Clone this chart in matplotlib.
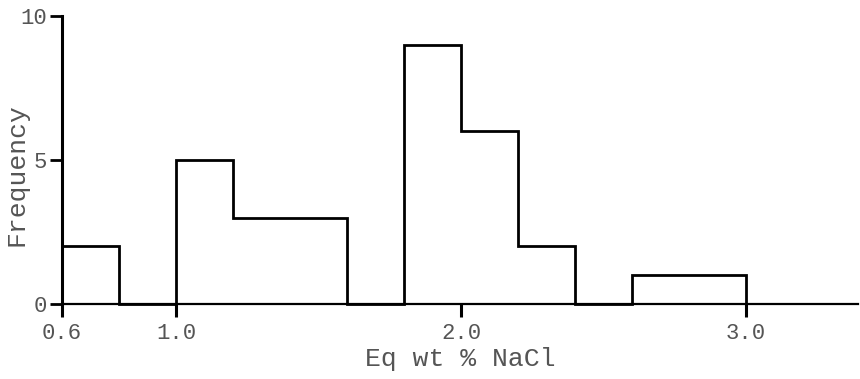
import matplotlib
matplotlib.use("Agg")
import matplotlib.pyplot as plt

# Histogram bin edges (width 0.2) and frequencies
bin_edges = [0.6, 0.8, 1.0, 1.2, 1.4, 1.6, 1.8, 2.0, 2.2, 2.4, 2.6, 2.8, 3.0]
freq = [2, 0, 5, 3, 3, 0, 9, 6, 2, 0, 1, 1]
xticks = [0.6, 1.0, 2.0, 3.0]
xticklabels = ["0.6", "1.0", "2.0", "3.0"]
yticks = [0, 5, 10]
yticklabels = ["0", "5", "10"]

txt_color = "#555555"
font = "Liberation Mono"

fig = plt.figure(figsize=(8.6, 3.79), dpi=100)
ax = fig.add_axes([62 / 860, 75 / 379, (858 - 62) / 860, (363 - 75) / 379])

# step outline of the histogram
ax.stairs(freq, bin_edges, baseline=0, fill=False, color="black", lw=2.0,
          joinstyle="miter", clip_on=False)

ax.set_xlim(0.6, 0.6 + (858 - 62) / 285)
ax.set_ylim(0, 10)

for s in ["top", "right"]:
    ax.spines[s].set_visible(False)
ax.spines["left"].set_linewidth(2.2)
ax.spines["bottom"].set_linewidth(1.6)

ax.set_xticks(xticks)
ax.set_xticklabels(xticklabels, fontsize=16, family=font, color=txt_color)
ax.set_yticks(yticks)
ax.set_yticklabels(yticklabels, fontsize=16, family=font, color=txt_color)
ax.tick_params(axis="x", length=9, width=2.2, direction="out", pad=5)
ax.tick_params(axis="y", length=9, width=2.0, direction="out", pad=2)

ax.set_xlabel("Eq wt % NaCl", fontsize=19, family=font, color=txt_color, labelpad=2)
fig.text(17 / 860, 1 - 175 / 379, "Frequency", rotation=90, ha="center", va="center",
         fontsize=19, family=font, color=txt_color)

fig.savefig("out.png", dpi=100)
